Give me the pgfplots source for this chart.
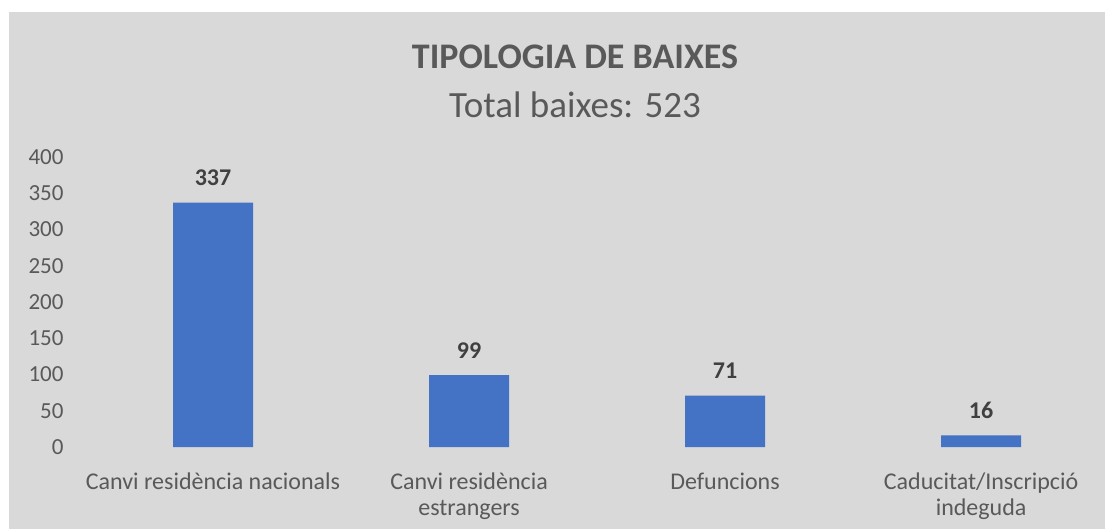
\documentclass[border=0pt]{standalone}
\usepackage{pgfplots}
\pgfplotsset{compat=1.18}
\usepackage{fontspec}
\setmainfont{Carlito}
\definecolor{bg}{HTML}{D9D9D9}
\definecolor{barc}{HTML}{4472C4}
\definecolor{txt}{HTML}{595959}
\definecolor{lab}{HTML}{404040}
\begin{document}
\begin{tikzpicture}
\useasboundingbox (-85bp,-82bp) rectangle (1020bp,447bp);
\fill[white] (-85bp,-82bp) rectangle (1020bp,447bp);
\fill[bg] (-76bp,-82bp) rectangle (1020bp,435bp);
\begin{axis}[at={(0,0)}, anchor=south west, scale only axis,
  width=1020bp, height=290bp,
  xmin=-0.5, xmax=3.484, ymin=0, ymax=400,
  ybar, bar width=80bp, bar shift=0pt,
  axis line style={draw=none}, tick style={draw=none},
  ytick={0,50,...,400},
  xtick=data,
  xticklabels={Canvi residència nacionals,{Canvi residència\\estrangers},Defuncions,{Caducitat/Inscripció\\indeguda}},
  xticklabel style={align=center, font=\fontsize{24bp}{26.5bp}\selectfont, text=txt, yshift=-18bp},
  yticklabel style={font=\fontsize{23bp}{26bp}\selectfont, text=txt, xshift=-18bp},
  /pgf/number format/assume math mode=true,
  nodes near coords,
  nodes near coords style={font=\fontsize{24bp}{26bp}\selectfont\bfseries, text=lab, anchor=center, yshift=25bp},
]
\addplot[fill=barc, draw=none] coordinates {(0,337) (1,99) (2,71) (3,16)};
\end{axis}
\node[font=\fontsize{36bp}{40bp}\selectfont\bfseries, text=txt] at (490bp,390bp) {TIPOLOGIA DE BAIXES};
\node[font=\fontsize{37bp}{40bp}\selectfont, text=txt] at (490bp,342bp) {Total baixes: 523};
\end{tikzpicture}
\end{document}
